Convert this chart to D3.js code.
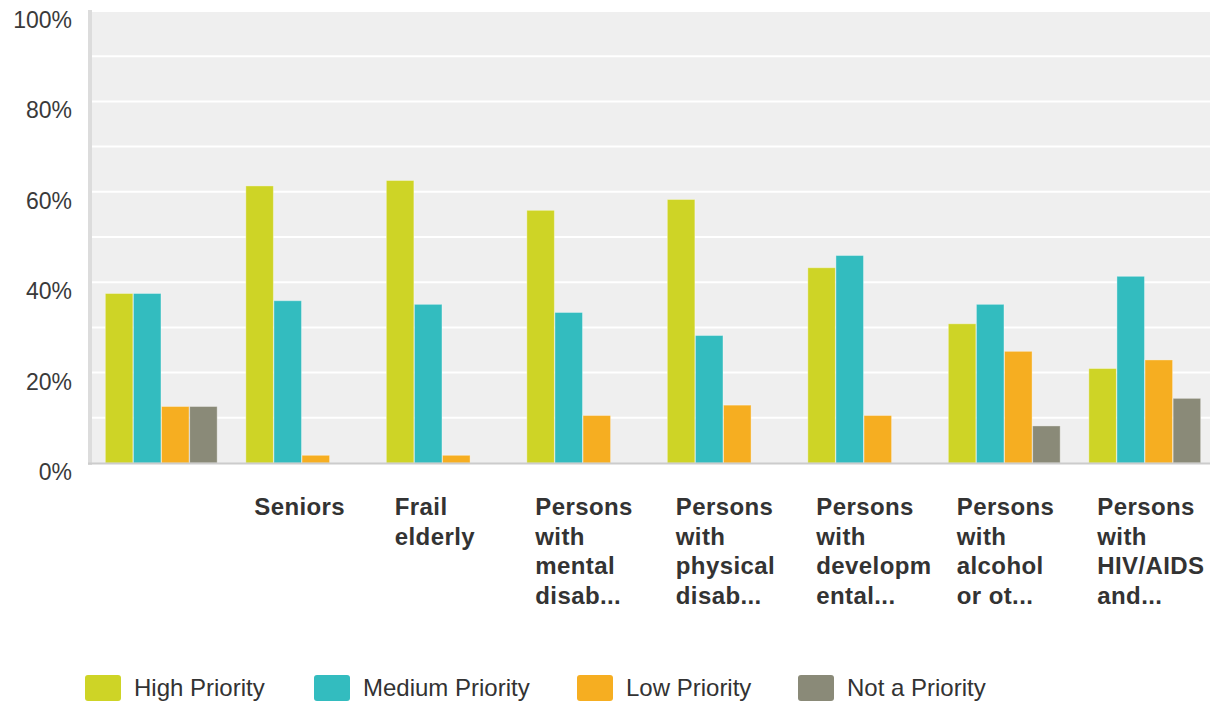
<!DOCTYPE html>
<html>
<head>
  <meta charset="utf-8">
  <script src="https://d3js.org/d3.v7.min.js"></script>
  <style>
    body { margin: 0; background: #fff; }
    svg { display: block; font-family: "Liberation Sans", Arial, sans-serif; }
  </style>
</head>
<body>
<script>
  // chart data
  var categories = [
    [""],
    ["Seniors"],
    ["Frail", "elderly"],
    ["Persons", "with", "mental", "disab..."],
    ["Persons", "with", "physical", "disab..."],
    ["Persons", "with", "developm", "ental..."],
    ["Persons", "with", "alcohol", "or ot..."],
    ["Persons", "with", "HIV/AIDS", "and..."]
  ];
  var seriesNames = ["High Priority", "Medium Priority", "Low Priority", "Not a Priority"];
  var seriesColors = ["#ced426", "#33bcbf", "#f6ae21", "#8a8a78"];
  var highPriority   = [37.5, 61.3, 62.5, 55.9, 58.3, 43.2, 30.8, 20.9];
  var mediumPriority = [37.5, 35.9, 35.1, 33.3, 28.2, 45.9, 35.1, 41.3];
  var lowPriority    = [12.5, 1.7, 1.7, 10.5, 12.8, 10.5, 24.7, 22.8];
  var notPriority    = [12.5, 0, 0, 0, 0, 0, 8.2, 14.3];
  var yTicks = [0, 20, 40, 60, 80, 100];
  var yGrid = [10, 20, 30, 40, 50, 60, 70, 80, 90, 100];

  var values = [highPriority, mediumPriority, lowPriority, notPriority];

  var W = 1210, H = 702;
  var plot = { left: 92, right: 1210, top: 10, bottom: 463 };

  var svg = d3.select("body").append("svg")
      .attr("width", W)
      .attr("height", H);

  var y = d3.scaleLinear().domain([0, 100]).range([463, 11]);

  var x0 = d3.scaleBand()
      .domain(d3.range(categories.length))
      .range([91, 1215])
      .paddingInner(0.196)
      .paddingOuter(0.098);

  var x1 = d3.scaleBand()
      .domain(d3.range(seriesNames.length))
      .range([0, x0.bandwidth()])
      .padding(0.02);

  // background
  svg.append("rect")
      .attr("x", plot.left).attr("y", plot.top)
      .attr("width", plot.right - plot.left)
      .attr("height", plot.bottom - plot.top)
      .attr("fill", "#efefef");

  svg.append("rect")
      .attr("x", 88).attr("y", plot.top)
      .attr("width", 4).attr("height", plot.bottom - plot.top + 2)
      .attr("fill", "#dcdcdc");

  // grid
  svg.append("g").selectAll("line")
    .data(yGrid)
    .join("line")
      .attr("x1", plot.left).attr("x2", plot.right)
      .attr("y1", d => y(d)).attr("y2", d => y(d))
      .attr("stroke", "#ffffff")
      .attr("stroke-width", 2);

  // y labels (they sit a bit under their grid line in the original)
  svg.append("g").selectAll("text")
    .data(yTicks)
    .join("text")
      .attr("x", 72)
      .attr("y", d => y(d) + 9)
      .attr("dy", "0.35em")
      .attr("text-anchor", "end")
      .attr("fill", "#3a3a3a")
      .style("font-size", "23px")
      .text(d => d + "%");

  // bars
  var groups = svg.append("g").selectAll("g")
    .data(categories)
    .join("g")
      .attr("transform", (d, i) => "translate(" + x0(i) + ",0)");

  groups.selectAll("rect")
    .data((d, i) => values.map((s, k) => ({ k: k, v: s[i] })).filter(e => e.v > 0))
    .join("rect")
      .attr("x", d => x1(d.k))
      .attr("y", d => y(d.v))
      .attr("width", x1.bandwidth())
      .attr("height", d => y(0) - y(d.v))
      .attr("fill", d => seriesColors[d.k])
      .attr("stroke", "#ffffff")
      .attr("stroke-opacity", 0.35)
      .attr("stroke-width", 1);

  // baseline
  svg.append("line")
      .attr("x1", 88).attr("x2", plot.right)
      .attr("y1", 463.5).attr("y2", 463.5)
      .attr("stroke", "#cccccc")
      .attr("stroke-width", 2);

  // category labels, left aligned under each group
  groups.each(function(lines, i) {
    var t = d3.select(this).append("text")
        .attr("fill", "#333333")
        .style("font-size", "24px")
        .style("font-weight", "bold")
        .style("letter-spacing", "0.4px");
    lines.forEach(function(line, j) {
      t.append("tspan")
          .attr("x", 9)
          .attr("y", 515 + j * 29.5)
          .text(line);
    });
  });

  // legend
  var legendX = [85, 314, 577, 798];
  var legend = svg.append("g").selectAll("g")
    .data(seriesNames)
    .join("g")
      .attr("transform", (d, i) => "translate(" + legendX[i] + ",675)");

  legend.append("rect")
      .attr("width", 36).attr("height", 26)
      .attr("rx", 3)
      .attr("fill", (d, i) => seriesColors[i]);

  legend.append("text")
      .attr("x", 49)
      .attr("y", 21)
      .attr("fill", "#333333")
      .style("font-size", "24px")
      .text(d => d);
</script>
</body>
</html>
